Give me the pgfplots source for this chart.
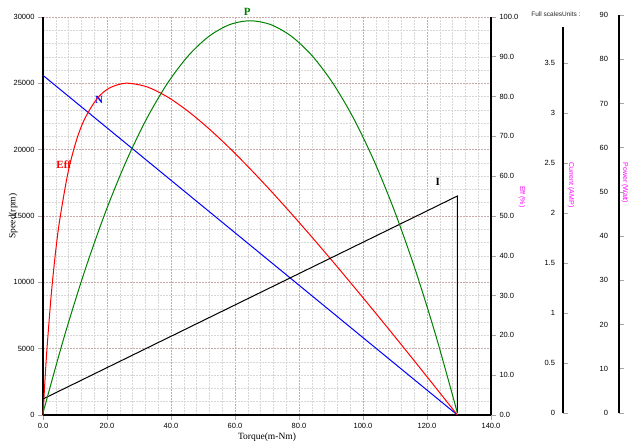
\documentclass[border=0pt]{standalone}
\usepackage{fontspec}
\setmainfont{Liberation Sans}
\newfontfamily\seriffont{Liberation Serif}
\usepackage{pgfplots}
\pgfplotsset{compat=1.18}

\definecolor{effred}{RGB}{255,0,0}
\definecolor{nblue}{RGB}{0,0,255}
\definecolor{pgreen}{RGB}{0,128,0}
\definecolor{lblmag}{RGB}{255,0,255}
\definecolor{majgrid}{RGB}{200,170,170}
\definecolor{mingrid}{RGB}{215,215,215}

\tikzset{
  sidelabel/.style={font=\fontsize{7}{8}\selectfont, text=lblmag, rotate=-90, anchor=center},
  curvelabel/.style={font=\seriffont\bfseries\fontsize{11}{12}\selectfont},
}
\pgfplotsset{
  base/.style={
    scale only axis, anchor=south west,
    tick label style={font=\fontsize{7.5}{8}\selectfont},
    /pgf/number format/assume math mode=true,
    axis line style={black, line width=1.1pt, -},
    tick style={gray!70, line width=0.6pt},
    major tick length=5pt, tick align=outside,
    clip=false,
  },
}

\begin{document}
\begin{tikzpicture}
\useasboundingbox (0,0) rectangle (630pt,440pt);

% speed axis (main box, grid)
\begin{axis}[base, at={(43pt,25pt)}, width=448pt, height=398pt,
  xmin=0, xmax=140, ymin=0, ymax=30000,
  axis x line*=bottom, axis y line*=left,
  xtick={0,20,...,140}, ytick={0,5000,...,30000},
  minor x tick num=4, minor y tick num=4, minor tick length=0pt,
  grid=both,
  major grid style={majgrid, dash pattern=on 2pt off 1pt, line width=0.5pt},
  minor grid style={mingrid, dash pattern=on 2pt off 1pt, line width=0.5pt},
  scaled x ticks=false, scaled y ticks=false,
  xticklabel style={/pgf/number format/.cd, fixed, fixed zerofill, precision=1},
  yticklabel style={/pgf/number format/.cd, fixed, 1000 sep={}},
  xlabel={Torque(m-Nm)}, ylabel={Speed(rpm)},
  every axis x label/.style={at={(axis description cs:0.5,-0.055)}, anchor=center, font=\seriffont\fontsize{9.5}{10}\selectfont},
  every axis y label/.style={at={(axis description cs:-0.067,0.5)}, rotate=90, anchor=center, font=\seriffont\fontsize{9.5}{10}\selectfont},
]
\addplot[nblue, line width=1pt] coordinates {(0,25600) (129.5,0)};
\node[text=nblue, curvelabel] at (axis cs:17.5,23750) {N};
\node[text=effred, curvelabel] at (axis cs:6.5,18900) {Eff};
\node[text=pgreen, curvelabel] at (axis cs:63.8,30350) {P};
\node[text=black, curvelabel] at (axis cs:123.4,17560) {I};
\end{axis}

% efficiency axis
\begin{axis}[base, at={(43pt,25pt)}, width=448pt, height=398pt,
  xmin=0, xmax=140, ymin=0, ymax=100,
  hide x axis, axis y line*=right,
  ytick={0,10,...,100},
  yticklabel style={/pgf/number format/.cd, fixed, fixed zerofill, precision=1},
  ylabel={Eff (\%)},
  every axis y label/.style={at={(axis description cs:1.069,0.548)}, sidelabel},
]
\addplot[effred, line width=1pt, smooth] coordinates {
  (0,0) (0.65,9.22) (1.295,17.23) (2.59,30.37) (3.885,40.63) (5.18,48.79)
  (7.77,60.74) (10.36,68.78) (12.95,74.28) (16.835,79.43) (20.72,82.14)
  (25.9,83.36) (32.375,82.48) (38.85,79.94) (45.325,76.32) (51.8,71.97)
  (58.275,67.10) (64.75,61.84) (71.225,56.30) (77.7,50.52) (84.175,44.57)
  (90.65,38.48) (97.125,32.26) (103.6,25.95) (110.075,19.56) (116.55,13.09)
  (123.025,6.57) (129.5,0)
};
\end{axis}

% current axis
\begin{axis}[base, at={(43pt,27pt)}, width=520pt, height=386pt,
  xmin=0, xmax=162.5, ymin=0, ymax=3.86,
  hide x axis, axis y line*=right,
  ytick={0,0.5,...,3.5},
  yticklabel style={anchor=east, xshift=-9.5pt},
  ylabel={Current (AMP)},
  every axis y label/.style={at={(axis description cs:1.0154,0.591)}, sidelabel},
]
\addplot[black, line width=1pt] coordinates {(0,0.14) (129.5,2.17) (129.5,0)};
\end{axis}

% power axis
\begin{axis}[base, at={(43pt,27pt)}, width=576pt, height=398pt,
  xmin=0, xmax=180, ymin=0, ymax=90,
  hide x axis, axis y line*=right,
  ytick={0,10,...,90},
  yticklabel style={anchor=east, xshift=-12.5pt},
  ylabel={Power (Watt)},
  every axis y label/.style={at={(axis description cs:1.0104,0.578)}, sidelabel},
]
\addplot[pgreen, line width=1pt, smooth] coordinates {
  (0,0) (6.475,16.85) (12.95,31.93) (19.425,45.24) (25.9,56.77) (32.375,66.53)
  (38.85,74.51) (45.325,80.72) (51.8,85.15) (58.275,87.81) (64.75,88.7)
  (71.225,87.81) (77.7,85.15) (84.175,80.72) (90.65,74.51) (97.125,66.53)
  (103.6,56.77) (110.075,45.24) (116.55,31.93) (123.025,16.85) (129.5,0)
};
\end{axis}

\node[font=\fontsize{6.5}{7}\selectfont, text=black!85] at (556pt,426pt) {Full scalesUnits :};
\end{tikzpicture}
\end{document}
